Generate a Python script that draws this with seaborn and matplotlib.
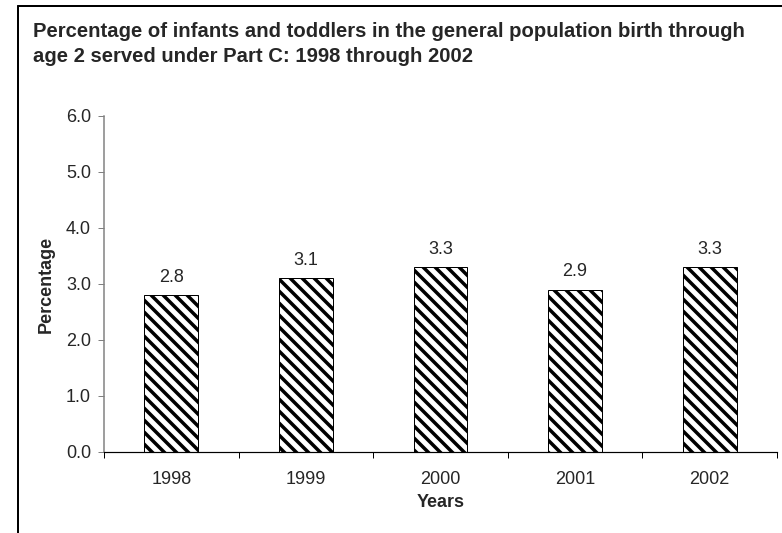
import matplotlib
matplotlib.use("Agg")
import matplotlib.pyplot as plt
import seaborn as sns
from matplotlib.lines import Line2D
from matplotlib.ticker import FormatStrFormatter, FixedLocator

years = ["1998", "1999", "2000", "2001", "2002"]
percentages = [2.8, 3.1, 3.3, 2.9, 3.3]
title_lines = ["Percentage of infants and toddlers in the general population birth through",
               "age 2 served under Part C: 1998 through 2002"]

sns.set_style("white")
plt.rcParams['font.family'] = ['Liberation Sans', 'DejaVu Sans']
plt.rcParams['hatch.linewidth'] = 3.5

# dpi 72 so hatch spacing matches the reference
W, H = 782, 533
fig = plt.figure(figsize=(W / 72, H / 72), dpi=72)
ax = fig.add_axes([104 / W, (H - 452) / H, (777 - 104) / W, (452 - 116) / H])

sns.barplot(x=years, y=percentages, color="white", edgecolor="black",
            linewidth=1.0, width=0.4, ax=ax)
for p in ax.patches:
    p.set_hatch("\\\\")

fs = 18
for i, v in enumerate(percentages):
    ax.text(i, v + 0.17, f"{v:.1f}", ha="center", va="bottom", fontsize=fs)

ax.set_ylim(0, 6)
ax.set_xlim(-0.5, 4.5)
ax.yaxis.set_major_formatter(FormatStrFormatter("%.1f"))
ax.set_yticks([0, 1, 2, 3, 4, 5, 6])
ax.tick_params(axis="y", labelsize=fs, length=6, width=1, color="#808080", direction="out", left=True, pad=7)
ax.tick_params(axis="x", which="major", labelsize=fs, length=0, pad=19)
ax.xaxis.set_minor_locator(FixedLocator([-0.5, 0.5, 1.5, 2.5, 3.5, 4.5]))
ax.tick_params(axis="x", which="minor", length=6, width=1, color="black", direction="out", bottom=True)

for s in ["top", "right"]:
    ax.spines[s].set_visible(False)
ax.spines["left"].set_color("#808080")
ax.spines["left"].set_linewidth(1.5)
ax.spines["bottom"].set_color("black")
ax.spines["bottom"].set_linewidth(1.2)

ax.set_xlabel("Years", fontsize=fs, fontweight="bold", labelpad=6)
ax.set_ylabel("Percentage", fontsize=fs, fontweight="bold")
ax.yaxis.set_label_coords(-0.073, 0.5)

# two-line bold title, placed by baseline
for k, line in enumerate(title_lines):
    fig.text(33 / W, 1 - (37 + 25 * k) / H, line, ha="left", va="baseline",
             fontsize=20.3, fontweight="bold")

# outer frame of the chart area
fig.add_artist(Line2D([18 / W, 18 / W], [0, 1 - 6 / H], transform=fig.transFigure, color="black", lw=2))
fig.add_artist(Line2D([18 / W, 1], [1 - 6 / H, 1 - 6 / H], transform=fig.transFigure, color="black", lw=2))

fig.savefig("out.png", dpi=72)
